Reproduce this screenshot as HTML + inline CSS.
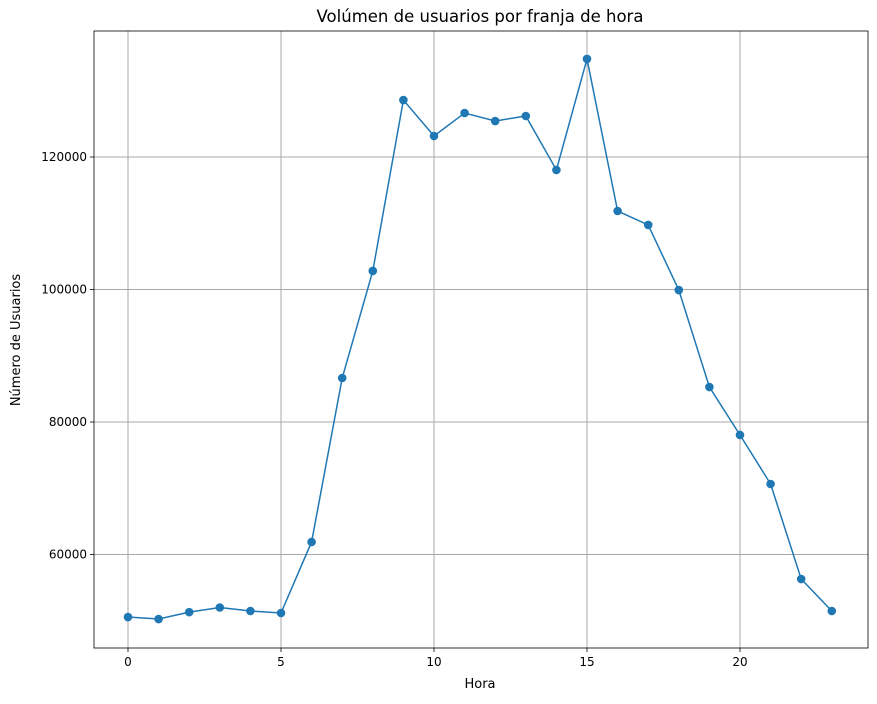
<!DOCTYPE html>
<html><head><meta charset="utf-8"><style>
body{margin:0;background:#fff;font-family:"DejaVu Sans","Liberation Sans",sans-serif}
svg text{font-family:"DejaVu Sans","Liberation Sans",sans-serif;font-size:12px;fill:#000}
</style></head><body>
<svg id="chart" width="877" height="700" viewBox="0 0 877 700" xmlns="http://www.w3.org/2000/svg">
<text x="480" y="22" text-anchor="middle" style="font-size:16.5px">Volúmen de usuarios por franja de hora</text>
<text x="480" y="688" text-anchor="middle" style="font-size:13px">Hora</text>
<text transform="translate(20,340) rotate(-90)" text-anchor="middle" style="font-size:13px">Número de Usuarios</text>
<g id="grid"></g><g id="series"></g><g id="axes"></g>
</svg>
<script>
const hours=[0,1,2,3,4,5,6,7,8,9,10,11,12,13,14,15,16,17,18,19,20,21,22,23];
const users=[50560,50260,51300,52000,51470,51170,61890,86640,102800,128600,123170,126640,125430,126190,118040,134800,111850,109740,99920,85280,78040,70640,56300,51470];
const xTicks=[0,5,10,15,20];
const yTicks=[60000,80000,100000,120000];
const L=94,R=868,T=31,B=648;
const x=v=>128+v*30.6;
const y=v=>157+(120000-v)*0.006625;
const NS="http://www.w3.org/2000/svg";
function mk(tag,attrs,parent){const e=document.createElementNS(NS,tag);for(const k in attrs)e.setAttribute(k,attrs[k]);parent.appendChild(e);return e;}
const grid=document.getElementById('grid'),ax=document.getElementById('axes'),se=document.getElementById('series');
xTicks.forEach(t=>{
 const g=mk('line',{x1:x(t),x2:x(t),y1:T,y2:B,stroke:'#a8a8a8','stroke-width':1},grid);
 
 const tk=mk('line',{x1:x(t),x2:x(t),y1:B,y2:B+4,stroke:'#000','stroke-width':0.8},ax);
 
 const tx=mk('text',{x:x(t),y:B+18,'text-anchor':'middle'},ax);tx.textContent=t;
 
});
yTicks.forEach(t=>{
 const g=mk('line',{x1:L,x2:R,y1:y(t),y2:y(t),stroke:'#a8a8a8','stroke-width':1},grid);
 
 const tk=mk('line',{x1:L-4,x2:L,y1:y(t),y2:y(t),stroke:'#000','stroke-width':0.8},ax);
 
 const tx=mk('text',{x:L-7,y:y(t)+4,'text-anchor':'end'},ax);tx.textContent=t;
 
});
const frame=mk('rect',{x:L,y:T,width:R-L,height:B-T,fill:'none',stroke:'#000','stroke-width':0.8},ax);

const pts=hours.map((h,i)=>x(h)+','+y(users[i])).join(' ');
const line=mk('polyline',{points:pts,fill:'none',stroke:'#1f77b4','stroke-width':1.5},se);

hours.forEach((h,i)=>{
 const c=mk('circle',{cx:x(h),cy:y(users[i]),r:4.3,fill:'#1f77b4'},se);
 
});
</script>
</body></html>
